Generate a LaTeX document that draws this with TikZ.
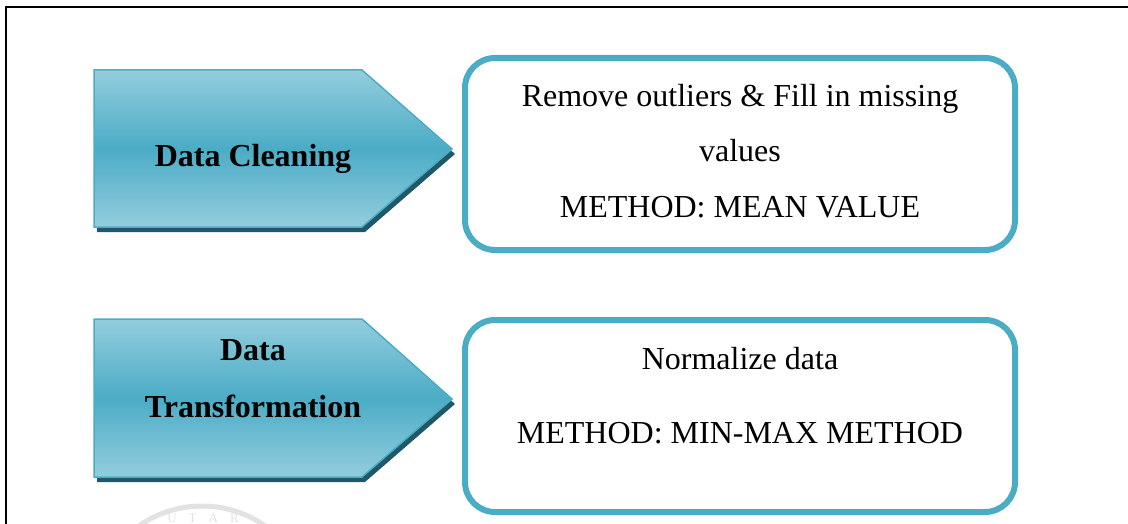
\documentclass[tikz,border=0pt]{standalone}
\usepackage{fontspec}
\setmainfont{Liberation Serif}
\definecolor{teal1}{HTML}{4BACC6}
\definecolor{teallight}{HTML}{93CDDD}
\definecolor{tealshadow}{HTML}{215868}
\definecolor{wm}{HTML}{E2E2E2}
\tikzset{
  every node/.style={inner sep=0pt, outer sep=0pt},
  headtext/.style={font=\fontsize{32}{38}\selectfont\bfseries, anchor=base},
  bodytext/.style={font=\fontsize{32}{38}\selectfont, anchor=base},
  infobox/.style={draw=teal1, line width=6pt, rounded corners=30pt, minimum width=550pt, minimum height=192pt},
  arrowfill/.style={draw=teal1, line width=1.5pt, top color=teallight, bottom color=teallight, middle color=teal1},
  arrowshadow/.style={fill=tealshadow},
  frameline/.style={line width=2.5pt, black},
}
\begin{document}
\begin{tikzpicture}[x=1pt, y=-1pt]
\useasboundingbox (0,0) rectangle (1128,524);
% watermark
\begin{scope}
  \clip (0,0) rectangle (1128,524);
  \draw[wm, line width=5pt] (202,616) circle (110);
  \node[font=\fontsize{13}{15}\selectfont, text=wm, anchor=base] (wmtext) at (203,522) {U\hspace{12pt}T\hspace{12pt}A\hspace{12pt}R};
\end{scope}
% frame
\coordinate (fa) at (6,524);
\coordinate (fb) at (6,7);
\coordinate (fc) at (1128,7);
\draw[frameline] (fa) -- (fb) -- (fc);
% arrow 1
\fill[arrowshadow] (97,75) -- (365,75) -- (455,154) -- (365,232) -- (97,232) -- cycle;
\path[arrowfill] (94,70) -- (362,70) -- (452,149) -- (362,227) -- (94,227) -- cycle;
\node[headtext] (a1) at (253,167) {Data Cleaning};
% arrow 2
\fill[arrowshadow] (97,324) -- (365,324) -- (455,404) -- (365,482) -- (97,482) -- cycle;
\path[arrowfill] (94,319) -- (362,319) -- (452,399) -- (362,477) -- (94,477) -- cycle;
\node[headtext] (a2a) at (253,360) {Data};
\node[headtext] (a2b) at (253,417) {Transformation};
% box 1
\node[infobox] (b1) at (740,154) {};
\node[bodytext] (b1a) at (740,107) {Remove outliers \& Fill in missing};
\node[bodytext] (b1b) at (740,162) {values};
\node[bodytext] (b1c) at (740,218) {METHOD: MEAN VALUE};
% box 2
\node[infobox] (b2) at (740,416) {};
\node[bodytext] (b2a) at (740,369) {Normalize data};
\node[bodytext] (b2b) at (740,443) {METHOD: MIN-MAX METHOD};
\end{tikzpicture}
\end{document}
